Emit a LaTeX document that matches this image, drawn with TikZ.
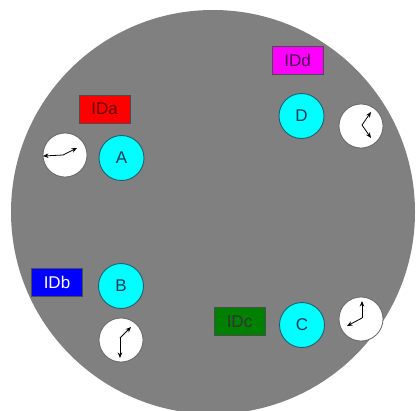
\documentclass[tikz,border=0pt]{standalone}
\usepackage{fontspec}
\setmainfont{Liberation Sans}
\usetikzlibrary{arrows.meta}
\definecolor{disk}{HTML}{808080}
\definecolor{tagred}{HTML}{FF0000}
\definecolor{tagmag}{HTML}{FF00FF}
\definecolor{tagblue}{HTML}{0000FF}
\definecolor{taggreen}{HTML}{008000}
\definecolor{nodecyan}{HTML}{00FFFF}
\definecolor{nodeline}{HTML}{1F5F6F}
\definecolor{letter}{HTML}{1A3A5A}
\tikzset{
  tagbox/.style={draw=black!70, line width=0.8pt, minimum width=51pt, minimum height=28pt, inner sep=0pt, font=\fontsize{17}{17}\selectfont},
  station/.style={circle, draw=nodeline, line width=0.9pt, fill=nodecyan, minimum size=45pt, inner sep=0pt, text=letter, font=\fontsize{17}{17}\selectfont},
  clock/.style={circle, draw=black!60, line width=0.8pt, fill=white, minimum size=44pt, inner sep=0pt},
  hand/.style={line width=0.8pt, black, -{Stealth[length=5.5pt,width=4.5pt]}}
}
\begin{document}
\begin{tikzpicture}[x=1pt,y=-1pt]
\useasboundingbox (0,0) rectangle (417,410);
\clip (0,0) rectangle (417,410);
\fill[white] (0,0) rectangle (417,410);
\fill[disk] (213,212) circle (202);
% tags
\node[tagbox, fill=tagred, text=red!40!black] (IDa) at (104.5,109) {IDa};
\node[tagbox, fill=tagmag, text=violet!60!black] (IDd) at (297.5,60.5) {IDd};
\node[tagbox, fill=tagblue, text=white] (IDb) at (57,282.5) {IDb};
\node[tagbox, fill=taggreen, text=black!80] (IDc) at (239.5,321.5) {IDc};
% stations
\node[station] (A) at (121.5,158) {A};
\node[station] (D) at (301.5,116) {D};
\node[station] (B) at (121,286) {B};
\node[station] (C) at (302,325) {C};
% clocks
\node[clock] (clkA) at (65,155) {};
\node[clock] (clkD) at (361,126) {};
\node[clock] (clkB) at (121,340) {};
\node[clock] (clkC) at (361,319) {};
% hand tips
\coordinate (a1) at (43,156);
\coordinate (a2) at (77,148);
\coordinate (d1) at (371,112);
\coordinate (d2) at (371,138);
\coordinate (b1) at (120,358);
\coordinate (b2) at (131,327);
\coordinate (c1) at (362,301);
\coordinate (c2) at (347,326);
% hands
\coordinate (av) at (63,155);
\coordinate (bv) at (120,338);
\coordinate (cv) at (362,318);
\coordinate (dv) at (362,125);
\draw[hand] (av) -- (a1);
\draw[hand] (av) -- (a2);
\draw[hand] (dv) -- (d1);
\draw[hand] (dv) -- (d2);
\draw[hand] (bv) -- (b1);
\draw[hand] (bv) -- (b2);
\draw[hand] (cv) -- (c1);
\draw[hand] (cv) -- (c2);
\end{tikzpicture}
\end{document}
